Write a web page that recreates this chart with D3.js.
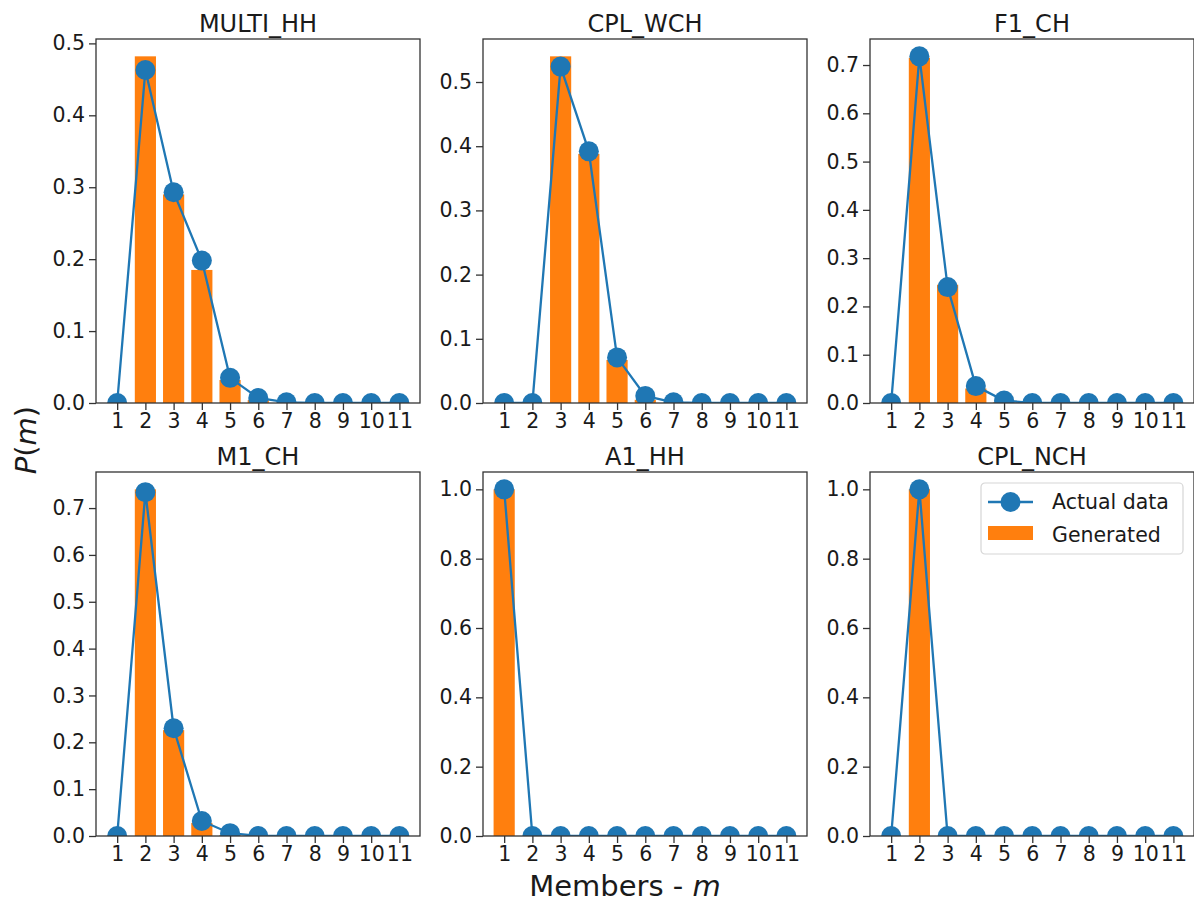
<!DOCTYPE html>
<html>
<head>
	<meta charset="utf-8">
	<title>household size distributions</title>
	<script src="https://d3js.org/d3.v7.min.js"></script>
	<style>
		body {
			margin: 0;
			background: #fff;
			font-family: 'DejaVu Sans', sans-serif;
		}
		.axis text {
			font-family: 'DejaVu Sans', sans-serif;
			font-size: 20.5px;
			fill: #1a1a1a;
		}
		.axis line, .axis path {
			stroke: #333;
			stroke-width: 1.3px;
		}
		.frame {
			fill: none;
			stroke: #333;
			stroke-width: 1.3px;
		}
		.title {
			font-size: 24px;
			fill: #1a1a1a;
		}
		.bar { fill: #ff7f0e; }
		.actual-line { fill: none; stroke: #1f77b4; stroke-width: 2.3px; }
		.actual-dot { fill: #1f77b4; }
		.big-label { font-size: 29px; fill: #1a1a1a; }
		.legend text { font-size: 20.5px; fill: #1a1a1a; }
	</style>
</head>
<body>
<div id="chart"></div>
<script>

	// Data.
	const members = [1, 2, 3, 4, 5, 6, 7, 8, 9, 10, 11];
	const panelNames = ['MULTI_HH', 'CPL_WCH', 'F1_CH', 'M1_CH', 'A1_HH', 'CPL_NCH'];

	const actualMultiHH = [0, 0.463, 0.293, 0.198, 0.035, 0.007, 0.001, 0, 0, 0, 0];
	const generatedMultiHH = [0, 0.482, 0.290, 0.185, 0.032, 0.004, 0, 0, 0, 0, 0];

	const actualCplWch = [0, 0, 0.524, 0.392, 0.071, 0.011, 0.001, 0, 0, 0, 0];
	const generatedCplWch = [0, 0, 0.540, 0.388, 0.067, 0.005, 0, 0, 0, 0, 0];

	const actualF1Ch = [0, 0.718, 0.240, 0.035, 0.005, 0, 0, 0, 0, 0, 0];
	const generatedF1Ch = [0, 0.715, 0.245, 0.030, 0.002, 0, 0, 0, 0, 0, 0];

	const actualM1Ch = [0, 0.734, 0.230, 0.032, 0.006, 0, 0, 0, 0, 0, 0];
	const generatedM1Ch = [0, 0.740, 0.226, 0.028, 0.002, 0, 0, 0, 0, 0, 0];

	const actualA1HH = [1, 0, 0, 0, 0, 0, 0, 0, 0, 0, 0];
	const generatedA1HH = [1, 0, 0, 0, 0, 0, 0, 0, 0, 0, 0];

	const actualCplNch = [0, 1, 0, 0, 0, 0, 0, 0, 0, 0, 0];
	const generatedCplNch = [0, 1, 0, 0, 0, 0, 0, 0, 0, 0, 0];

	const ticksTenths5 = [0, 0.1, 0.2, 0.3, 0.4, 0.5];
	const ticksTenths7 = [0, 0.1, 0.2, 0.3, 0.4, 0.5, 0.6, 0.7];
	const ticksFifths = [0, 0.2, 0.4, 0.6, 0.8, 1.0];

	const actualSeries = [actualMultiHH, actualCplWch, actualF1Ch, actualM1Ch, actualA1HH, actualCplNch];
	const generatedSeries = [generatedMultiHH, generatedCplWch, generatedF1Ch, generatedM1Ch, generatedA1HH, generatedCplNch];
	const yTickSets = [ticksTenths5, ticksTenths5, ticksTenths7, ticksTenths7, ticksFifths, ticksFifths];

	const legendLabels = ['Actual data', 'Generated'];

	// Layout of the 2x3 grid.
	const panelLefts = [96, 483, 870];
	const panelTops = [39, 472];
	const panelWidth = 324;
	const panelHeight = 364;
	const barWidth = 0.75;
	const dotRadius = 10;

	const svg = d3.select('#chart')
		.append('svg')
			.attr('width', 1194)
			.attr('height', 902);

	panelNames.forEach(function (name, i) {
		const col = i % 3;
		const row = Math.floor(i / 3);
		const actual = actualSeries[i];
		const generated = generatedSeries[i];
		const rows = members.map((m, j) => ({m: m, actual: actual[j], generated: generated[j]}));

		const g = svg.append('g')
			.attr('transform', 'translate(' + panelLefts[col] + ',' + panelTops[row] + ')');

		const x = d3.scaleLinear()
			.domain([0.25, 11.73])
			.range([0, panelWidth]);

		const yMax = d3.max(rows, d => Math.max(d.actual, d.generated)) * 1.05;
		const y = d3.scaleLinear()
			.domain([0, yMax])
			.range([panelHeight, 0]);

		const clipId = 'clip-' + i;
		g.append('clipPath')
			.attr('id', clipId)
		.append('rect')
			.attr('width', panelWidth)
			.attr('height', panelHeight);

		const plot = g.append('g').attr('clip-path', 'url(#' + clipId + ')');

		// Generated bars.
		plot.selectAll('.bar')
			.data(rows.filter(d => d.generated > 0))
			.enter().append('rect')
				.attr('class', 'bar')
				.attr('x', d => x(d.m - barWidth / 2))
				.attr('width', d => x(d.m + barWidth / 2) - x(d.m - barWidth / 2))
				.attr('y', d => y(d.generated))
				.attr('height', d => y(0) - y(d.generated));

		// Actual data line with markers.
		plot.append('path')
			.datum(rows)
			.attr('class', 'actual-line')
			.attr('d', d3.line().x(d => x(d.m)).y(d => y(d.actual)));

		plot.selectAll('.actual-dot')
			.data(rows)
			.enter().append('circle')
				.attr('class', 'actual-dot')
				.attr('cx', d => x(d.m))
				.attr('cy', d => y(d.actual))
				.attr('r', dotRadius);

		// Axes.
		g.append('g')
			.attr('class', 'axis')
			.attr('transform', 'translate(0,' + panelHeight + ')')
			.call(d3.axisBottom(x).tickValues(members).tickFormat(d3.format('d'))
				.tickSize(7).tickPadding(3).tickSizeOuter(0))
			.call(a => a.select('.domain').remove());

		g.append('g')
			.attr('class', 'axis')
			.call(d3.axisLeft(y).tickValues(yTickSets[i]).tickFormat(d3.format('.1f'))
				.tickSize(7).tickPadding(4).tickSizeOuter(0))
			.call(a => a.select('.domain').remove());

		g.append('rect')
			.attr('class', 'frame')
			.attr('width', panelWidth)
			.attr('height', panelHeight);

		g.append('text')
			.attr('class', 'title')
			.attr('x', panelWidth / 2)
			.attr('y', -7)
			.attr('text-anchor', 'middle')
			.text(name);

		// Legend sits in the last panel.
		if (i === panelNames.length - 1) {
			const legend = g.append('g')
				.attr('class', 'legend')
				.attr('transform', 'translate(' + (panelWidth - 213) + ',11)');
			legend.append('rect')
				.attr('width', 202)
				.attr('height', 71)
				.attr('rx', 4)
				.attr('fill', '#fff')
				.attr('fill-opacity', 0.8)
				.attr('stroke', '#d6d6d6')
				.attr('stroke-width', 1.2);
			legend.append('line')
				.attr('class', 'actual-line')
				.attr('x1', 7).attr('x2', 52)
				.attr('y1', 19).attr('y2', 19);
			legend.append('circle')
				.attr('class', 'actual-dot')
				.attr('cx', 29.5).attr('cy', 19)
				.attr('r', dotRadius);
			legend.append('rect')
				.attr('class', 'bar')
				.attr('x', 7).attr('y', 43)
				.attr('width', 45).attr('height', 14);
			legend.selectAll('.legend-label')
				.data(legendLabels)
				.enter().append('text')
					.attr('class', 'legend-label')
					.attr('x', 71)
					.attr('y', (d, k) => 26 + k * 33)
					.text(d => d);
		}
	});

	// Shared axis labels.
	svg.append('text')
		.attr('class', 'big-label')
		.attr('x', 625)
		.attr('y', 896)
		.attr('text-anchor', 'middle')
		.call(t => {
			t.append('tspan').text('Members - ');
			t.append('tspan').attr('font-style', 'italic').text('m');
		});

	svg.append('text')
		.attr('class', 'big-label')
		.attr('transform', 'translate(36,440) rotate(-90)')
		.attr('text-anchor', 'middle')
		.call(t => {
			t.append('tspan').attr('font-style', 'italic').text('P');
			t.append('tspan').text('(');
			t.append('tspan').attr('font-style', 'italic').text('m');
			t.append('tspan').text(')');
		});

</script>
</body>
</html>
